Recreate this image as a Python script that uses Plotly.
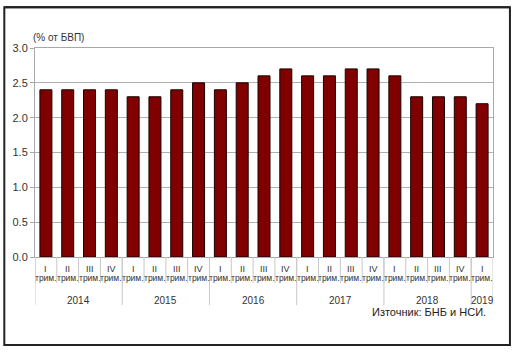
import plotly.graph_objects as go

quarters = ["I", "II", "III", "IV"] * 5 + ["I"]
years = ["2014", "2015", "2016", "2017", "2018", "2019"]
year_sizes = [4, 4, 4, 4, 4, 1]
values = [2.4, 2.4, 2.4, 2.4, 2.3, 2.3, 2.4, 2.5, 2.4, 2.5, 2.6,
          2.7, 2.6, 2.6, 2.7, 2.7, 2.6, 2.3, 2.3, 2.3, 2.2]
y_ticks = [0.0, 0.5, 1.0, 1.5, 2.0, 2.5, 3.0]

n = len(values)
xs = list(range(n))
FONT = "Liberation Sans, Arial, sans-serif"

fig = go.Figure(go.Bar(
    x=xs, y=values, width=0.55,
    marker=dict(color="#800000", line=dict(color="#1a0000", width=1)),
    hoverinfo="skip",
))

shapes = []
annotations = []

# quarter labels and short dividers
for i, q in enumerate(quarters):
    annotations.append(dict(x=i, xref="x", y=-0.022, yref="paper", text=q,
                            showarrow=False, yanchor="top",
                            font=dict(size=9, color="#333", family=FONT)))
    annotations.append(dict(x=i, xref="x", y=-0.068, yref="paper", text="трим.",
                            showarrow=False, yanchor="top",
                            font=dict(size=8.5, color="#333", family=FONT)))
    shapes.append(dict(type="line", xref="x", yref="paper", x0=i - 0.5, x1=i - 0.5,
                       y0=0, y1=-0.125, line=dict(color="#c8c8c8", width=1)))

# year labels and long dividers
start = 0
for yr, sz in zip(years, year_sizes):
    shapes.append(dict(type="line", xref="x", yref="paper", x0=start - 0.5, x1=start - 0.5,
                       y0=0, y1=-0.23, line=dict(color="#c8c8c8", width=1)))
    annotations.append(dict(x=start + (sz - 1) / 2, xref="x", y=-0.17, yref="paper",
                            text=yr, showarrow=False, yanchor="top",
                            font=dict(size=10, color="#333", family=FONT)))
    start += sz
shapes.append(dict(type="line", xref="x", yref="paper", x0=n - 0.5, x1=n - 0.5,
                   y0=0, y1=-0.23, line=dict(color="#c8c8c8", width=1)))

# outer frame
shapes.append(dict(type="rect", xref="paper", yref="paper", x0=-0.067, x1=1.037,
                   y0=-0.421, y1=1.195, line=dict(color="#222", width=2),
                   fillcolor="rgba(0,0,0,0)", layer="above"))
shapes.append(dict(type="line", xref="paper", yref="paper", x0=-0.067, x1=1.037,
                   y0=1.195, y1=1.195, line=dict(color="#222", width=2),
                   layer="above"))

annotations.append(dict(x=-0.008, xref="paper", y=1.015, yref="paper", text="(% от БВП)",
                        showarrow=False, xanchor="left", yanchor="bottom",
                        font=dict(size=10, color="#333", family=FONT)))
annotations.append(dict(x=0.99, xref="paper", y=-0.225, yref="paper",
                        text="Източник: БНБ и НСИ.", showarrow=False,
                        xanchor="right", yanchor="top",
                        font=dict(size=11, color="#222", family=FONT)))

fig.update_layout(
    width=515, height=355,
    margin=dict(l=35, r=22, t=48, b=98),
    paper_bgcolor="white", plot_bgcolor="white",
    showlegend=False,
    font=dict(family=FONT, size=10, color="#333"),
    xaxis=dict(range=[-0.5, n - 0.5], showticklabels=False, ticks="",
               showgrid=False, zeroline=False, showline=True,
               linecolor="#a8a8a8", linewidth=1, mirror=True),
    yaxis=dict(range=[0, 3.0], tickvals=y_ticks,
               ticktext=[f"{v:.1f}" for v in y_ticks],
               ticks="outside", ticklen=4, tickcolor="#a8a8a8",
               showgrid=True, gridcolor="#b0b0b0", gridwidth=1,
               zeroline=False, showline=True, linecolor="#a8a8a8",
               linewidth=1, mirror=True,
               tickfont=dict(size=11, color="#333", family=FONT)),
    shapes=shapes,
    annotations=annotations,
)

fig.write_html("out.html",
               config={"displayModeBar": False},
               post_script="document.body.style.margin='0';document.body.style.overflow='hidden';")
